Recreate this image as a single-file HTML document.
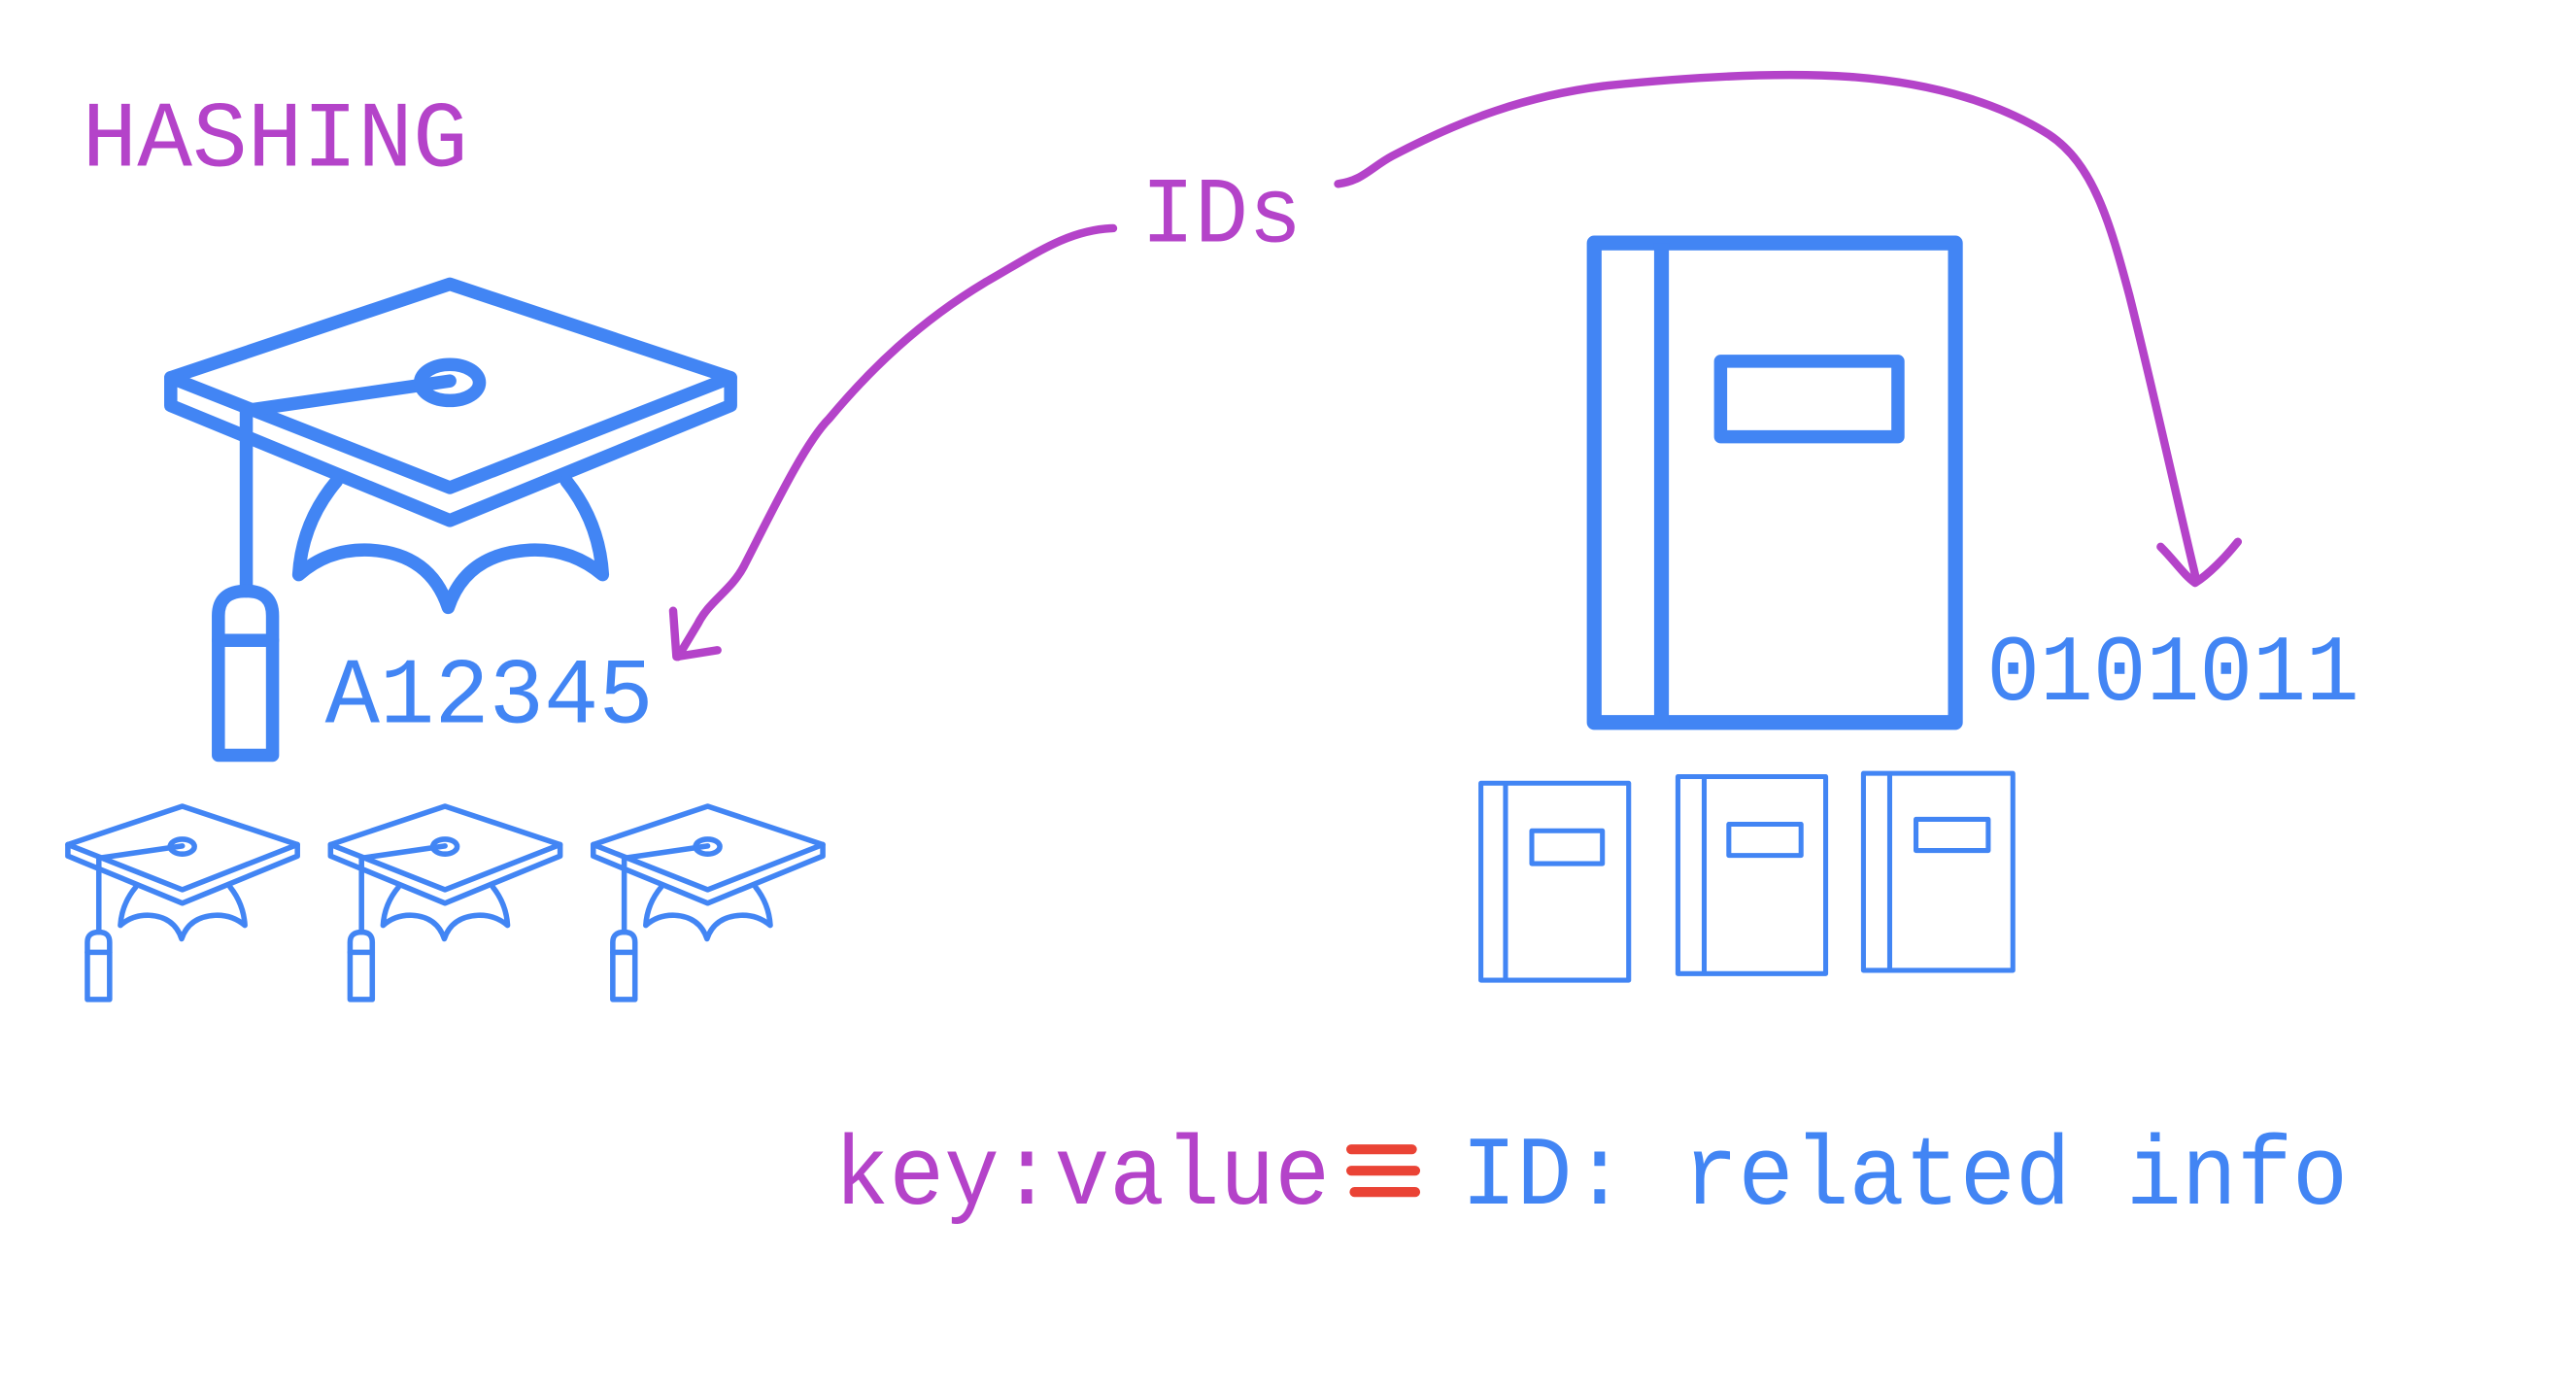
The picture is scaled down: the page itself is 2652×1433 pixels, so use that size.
<!DOCTYPE html>
<html><head><meta charset="utf-8"><style>
html,body{margin:0;padding:0;background:#fff;}
svg{display:block;}
text{font-family:"Liberation Mono",monospace;}
</style></head><body>
<svg width="2652" height="1433" viewBox="0 0 1569 847.8" xmlns="http://www.w3.org/2000/svg">
<defs>
<g id="cap" fill="none" stroke="#4285f4" stroke-width="8" stroke-linejoin="round" stroke-linecap="round">
  <path d="M274,173 L104,230 L104,247 L274,317 L445,247 L445,230 Z"/>
  <path d="M104,230 L274,297 L445,230"/>
  <path d="M274,232 L150,250 L150,360"/>
  <ellipse cx="274" cy="233" rx="18" ry="11"/>
  <path d="M205,293 Q184,318 182,350 Q200,334 225,335 Q262,337 273,370 Q284,337 323,335 Q348,334 367,350 Q365,318 345,293"/>
  <path d="M133,460 L133,375 Q133,360 150,360 Q166,360 166,375 L166,460 Z"/>
  <path d="M133,390 L166,390"/>
</g>
</defs>
<text x="50" y="101" font-size="57" fill="#b443c9" textLength="235" lengthAdjust="spacingAndGlyphs">HASHING</text>
<text x="695" y="147" font-size="57" fill="#b443c9" textLength="98" lengthAdjust="spacingAndGlyphs">IDs</text>
<text x="198" y="440" font-size="57" fill="#4285f4" textLength="200" lengthAdjust="spacingAndGlyphs">A12345</text>
<text x="1210" y="426" font-size="57" fill="#4285f4" textLength="227" lengthAdjust="spacingAndGlyphs">0101011</text>
<text x="508" y="733" font-size="60" fill="#b443c9" textLength="302" lengthAdjust="spacingAndGlyphs">key:value</text>
<text x="890" y="733" font-size="60" fill="#4285f4" textLength="540" lengthAdjust="spacingAndGlyphs">ID: related info</text>
<g stroke="#ea4335" stroke-width="6" stroke-linecap="round">
<line x1="823" y1="700" x2="860" y2="700"/><line x1="823" y1="713" x2="862" y2="713"/><line x1="825" y1="726" x2="862" y2="726"/>
</g>
<use href="#cap"/>
<g transform="translate(-1.3,420.1) scale(0.41)"><use href="#cap"/></g>
<g transform="translate(158.7,420.1) scale(0.41)"><use href="#cap"/></g>
<g transform="translate(318.7,420.1) scale(0.41)"><use href="#cap"/></g>
<g fill="none" stroke="#4285f4" stroke-linejoin="round">
<rect x="971" y="148" width="220" height="292" stroke-width="9"/>
<line x1="1012" y1="148" x2="1012" y2="440" stroke-width="9"/>
<rect x="1048" y="220" width="108" height="46" stroke-width="8"/>
<g stroke-width="3">
<rect x="902" y="477" width="90" height="120"/><line x1="917" y1="477" x2="917" y2="597"/><rect x="933" y="506" width="43" height="20"/>
<rect x="1022" y="473" width="90" height="120"/><line x1="1038" y1="473" x2="1038" y2="593"/><rect x="1053" y="502" width="44" height="19"/>
<rect x="1135" y="471" width="91" height="120"/><line x1="1151" y1="471" x2="1151" y2="591"/><rect x="1167" y="499" width="44" height="19"/>
</g>
</g>
<g fill="none" stroke="#b443c9" stroke-width="5" stroke-linecap="round" stroke-linejoin="round">
<path d="M678,139 C650,140 630,155 600,172 C560,196 530,225 505,255 C490,270 470,312 453,345 C445,360 432,366 425,380 L413,400"/>
<path d="M410,372 L412,400 L437,396"/>
<path d="M815,112 C830,110 835,102 848,95 C890,73 930,58 980,52 C1040,46 1090,44 1130,47 C1180,51 1220,64 1248,82 C1275,100 1285,135 1297,180 C1312,240 1325,300 1337,350"/>
<path d="M1316,333 C1325,342 1330,350 1337,355 C1345,350 1355,340 1363,330"/>
</g>
</svg>
</body></html>
